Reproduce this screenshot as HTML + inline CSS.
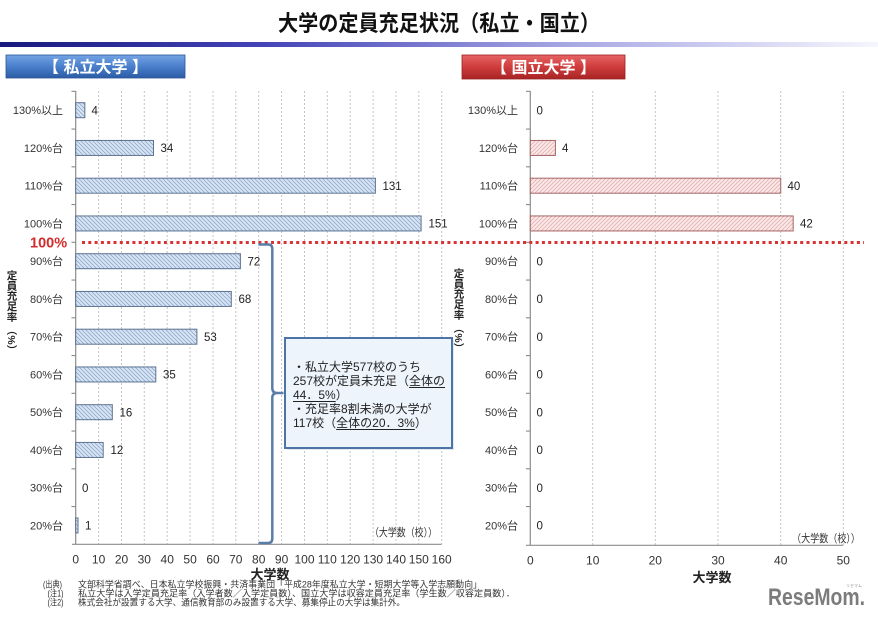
<!DOCTYPE html>
<html><head><meta charset="utf-8">
<style>
html,body{margin:0;padding:0;background:#fff;}
#wrap{position:relative;width:878px;height:620px;overflow:hidden;background:#fff;font-family:"Liberation Sans","Noto Sans CJK JP",sans-serif;}
svg{position:absolute;left:0;top:0;}
#call{position:absolute;left:293px;top:359.5px;font-size:12px;line-height:14px;color:#222;white-space:nowrap;font-family:"Liberation Sans","Noto Sans CJK JP",sans-serif;}
#call u{text-decoration:underline;text-underline-offset:2px;}
</style></head><body>
<div id="wrap">
<svg width="878" height="620" viewBox="0 0 878 620" xmlns="http://www.w3.org/2000/svg" font-family="Liberation Sans, Noto Sans CJK JP, sans-serif">
<defs>
<linearGradient id="topbar" x1="0" y1="0" x2="1" y2="0">
<stop offset="0" stop-color="#18187c"/>
<stop offset="0.3" stop-color="#4444b8"/>
<stop offset="0.65" stop-color="#a8a8e4"/>
<stop offset="1" stop-color="#f6f6fd"/>
</linearGradient>
<linearGradient id="bluebox" x1="0" y1="0" x2="0" y2="1">
<stop offset="0" stop-color="#74a4e4"/>
<stop offset="0.5" stop-color="#4a7fcc"/>
<stop offset="1" stop-color="#2b5ca6"/>
</linearGradient>
<linearGradient id="redbox" x1="0" y1="0" x2="0" y2="1">
<stop offset="0" stop-color="#e66464"/>
<stop offset="0.5" stop-color="#cf3c3c"/>
<stop offset="1" stop-color="#a82424"/>
</linearGradient>
<pattern id="hb" patternUnits="userSpaceOnUse" width="4" height="4">
<rect width="4" height="4" fill="#d9e5f3"/>
<path d="M-1,-1 L5,5 M-1,3 L1,5 M3,-1 L5,1" stroke="#8ea8cf" stroke-width="0.8"/>
</pattern>
<pattern id="hr" patternUnits="userSpaceOnUse" width="4" height="4">
<rect width="4" height="4" fill="#fbe9e9"/>
<path d="M-1,5 L5,-1 M-1,1 L1,-1 M3,5 L5,3" stroke="#e4b0b0" stroke-width="0.8"/>
</pattern>
</defs>

<!-- title -->
<text x="278" y="31" font-size="22" font-weight="bold" fill="#111" textLength="322" lengthAdjust="spacingAndGlyphs">大学の定員充足状況（私立・国立）</text>
<rect x="0" y="42" width="878" height="5" fill="url(#topbar)"/>

<!-- header boxes -->
<rect x="6" y="55" width="179" height="23" fill="url(#bluebox)" stroke="#2a5494" stroke-width="0.8"/>
<text x="95.5" y="72.5" font-size="16" font-weight="bold" fill="#fff" text-anchor="middle">【 私立大学 】</text>
<rect x="462" y="55" width="163" height="24" fill="url(#redbox)" stroke="#9a2020" stroke-width="0.8"/>
<text x="543.5" y="73" font-size="16" font-weight="bold" fill="#fff" text-anchor="middle">【 国立大学 】</text>

<!-- LEFT CHART gridlines -->
<g stroke="#c4c4c4" stroke-width="1" stroke-dasharray="2,2">
<line x1="98.6" y1="91" x2="98.6" y2="544"/>
<line x1="121.5" y1="91" x2="121.5" y2="544"/>
<line x1="144.3" y1="91" x2="144.3" y2="544"/>
<line x1="167.2" y1="91" x2="167.2" y2="544"/>
<line x1="190.1" y1="91" x2="190.1" y2="544"/>
<line x1="213" y1="91" x2="213" y2="544"/>
<line x1="235.8" y1="91" x2="235.8" y2="544"/>
<line x1="258.7" y1="91" x2="258.7" y2="544"/>
<line x1="281.6" y1="91" x2="281.6" y2="544"/>
<line x1="304.5" y1="91" x2="304.5" y2="544"/>
<line x1="327.3" y1="91" x2="327.3" y2="544"/>
<line x1="350.2" y1="91" x2="350.2" y2="544"/>
<line x1="373.1" y1="91" x2="373.1" y2="544"/>
<line x1="396" y1="91" x2="396" y2="544"/>
<line x1="418.8" y1="91" x2="418.8" y2="544"/>
<line x1="441.7" y1="91" x2="441.7" y2="544"/>
</g>
<!-- RIGHT CHART gridlines -->
<g stroke="#c4c4c4" stroke-width="1" stroke-dasharray="2,2">
<line x1="592.7" y1="91" x2="592.7" y2="545"/>
<line x1="655.3" y1="91" x2="655.3" y2="545"/>
<line x1="718" y1="91" x2="718" y2="545"/>
<line x1="780.7" y1="91" x2="780.7" y2="545"/>
<line x1="843.3" y1="91" x2="843.3" y2="545"/>
</g>

<!-- axes -->
<g stroke="#8c8c8c" stroke-width="1.2" fill="none">
<line x1="75.7" y1="91" x2="75.7" y2="544.3"/>
<line x1="72" y1="544.3" x2="441.7" y2="544.3"/>
<path d="M71.5,91.3H75.7M71.5,129.05H75.7M71.5,166.8H75.7M71.5,204.55H75.7M71.5,242.3H75.7M71.5,280.05H75.7M71.5,317.8H75.7M71.5,355.55H75.7M71.5,393.3H75.7M71.5,431.05H75.7M71.5,468.8H75.7M71.5,506.55H75.7"/>
<line x1="530.3" y1="91" x2="530.3" y2="545.3"/>
<line x1="526" y1="545.3" x2="843.3" y2="545.3"/>
<path d="M526,91.3H530.3M526,129.05H530.3M526,166.8H530.3M526,204.55H530.3M526,242.3H530.3M526,280.05H530.3M526,317.8H530.3M526,355.55H530.3M526,393.3H530.3M526,431.05H530.3M526,468.8H530.3M526,506.55H530.3"/>
</g>

<!-- left bars -->
<g stroke="#5c7391" stroke-width="1" fill="url(#hb)">
<rect x="75.7" y="102.7" width="9.15" height="15"/>
<rect x="75.7" y="140.45" width="77.8" height="15"/>
<rect x="75.7" y="178.2" width="299.7" height="15"/>
<rect x="75.7" y="215.95" width="345.4" height="15"/>
<rect x="75.7" y="253.7" width="164.7" height="15"/>
<rect x="75.7" y="291.45" width="155.6" height="15"/>
<rect x="75.7" y="329.2" width="121.2" height="15"/>
<rect x="75.7" y="366.95" width="80.1" height="15"/>
<rect x="75.7" y="404.7" width="36.6" height="15"/>
<rect x="75.7" y="442.45" width="27.5" height="15"/>
<rect x="75.7" y="517.95" width="2.3" height="15"/>
</g>
<!-- right bars -->
<g stroke="#a46565" stroke-width="1" fill="url(#hr)">
<rect x="530.3" y="140.45" width="25.1" height="15"/>
<rect x="530.3" y="178.2" width="250.4" height="15"/>
<rect x="530.3" y="215.95" width="262.9" height="15"/>
</g>

<!-- left category labels -->
<g font-size="11" fill="#333" text-anchor="end">
<text x="63" y="114.2">130%以上</text>
<text x="63" y="152">120%台</text>
<text x="63" y="189.7">110%台</text>
<text x="63" y="227.5">100%台</text>
<text x="63" y="265.2">90%台</text>
<text x="63" y="303">80%台</text>
<text x="63" y="340.7">70%台</text>
<text x="63" y="378.5">60%台</text>
<text x="63" y="416.2">50%台</text>
<text x="63" y="454">40%台</text>
<text x="63" y="491.7">30%台</text>
<text x="63" y="529.5">20%台</text>
</g>
<!-- right category labels -->
<g font-size="11" fill="#333" text-anchor="end">
<text x="518" y="114.2">130%以上</text>
<text x="518" y="152">120%台</text>
<text x="518" y="189.7">110%台</text>
<text x="518" y="227.5">100%台</text>
<text x="518" y="265.2">90%台</text>
<text x="518" y="303">80%台</text>
<text x="518" y="340.7">70%台</text>
<text x="518" y="378.5">60%台</text>
<text x="518" y="416.2">50%台</text>
<text x="518" y="454">40%台</text>
<text x="518" y="491.7">30%台</text>
<text x="518" y="529.5">20%台</text>
</g>

<!-- left value labels -->
<g font-size="11.5" fill="#222">
<text x="91.5" y="114.3">4</text>
<text x="160.5" y="152">34</text>
<text x="382.5" y="189.8">131</text>
<text x="428.5" y="227.5">151</text>
<text x="247.5" y="265.3">72</text>
<text x="238.5" y="303">68</text>
<text x="204" y="340.8">53</text>
<text x="163" y="378.5">35</text>
<text x="119.5" y="416.3">16</text>
<text x="110.5" y="454">12</text>
<text x="82" y="491.8">0</text>
<text x="85" y="529.5">1</text>
</g>
<!-- right value labels -->
<g font-size="11.5" fill="#222">
<text x="536.5" y="114.3">0</text>
<text x="562" y="152">4</text>
<text x="787.5" y="189.8">40</text>
<text x="800" y="227.5">42</text>
<text x="536.5" y="265.3">0</text>
<text x="536.5" y="303">0</text>
<text x="536.5" y="340.8">0</text>
<text x="536.5" y="378.5">0</text>
<text x="536.5" y="416.3">0</text>
<text x="536.5" y="454">0</text>
<text x="536.5" y="491.8">0</text>
<text x="536.5" y="529.5">0</text>
</g>

<!-- left x tick labels -->
<g font-size="12" fill="#333" text-anchor="middle">
<text x="75.7" y="563.5">0</text>
<text x="98.6" y="563.5">10</text>
<text x="121.5" y="563.5">20</text>
<text x="144.3" y="563.5">30</text>
<text x="167.2" y="563.5">40</text>
<text x="190.1" y="563.5">50</text>
<text x="213" y="563.5">60</text>
<text x="235.8" y="563.5">70</text>
<text x="258.7" y="563.5">80</text>
<text x="281.6" y="563.5">90</text>
<text x="304.5" y="563.5">100</text>
<text x="327.3" y="563.5">110</text>
<text x="350.2" y="563.5">120</text>
<text x="373.1" y="563.5">130</text>
<text x="396" y="563.5">140</text>
<text x="418.8" y="563.5">150</text>
<text x="441.7" y="563.5">160</text>
</g>
<!-- right x tick labels -->
<g font-size="12" fill="#333" text-anchor="middle">
<text x="530.3" y="564.5">0</text>
<text x="592.7" y="564.5">10</text>
<text x="655.3" y="564.5">20</text>
<text x="718" y="564.5">30</text>
<text x="780.7" y="564.5">40</text>
<text x="843.3" y="564.5">50</text>
</g>

<!-- axis titles -->
<text x="270" y="579" font-size="13" font-weight="bold" fill="#222" text-anchor="middle">大学数</text>
<text x="712" y="582" font-size="13" font-weight="bold" fill="#222" text-anchor="middle">大学数</text>
<text x="370" y="536" font-size="11" fill="#333" textLength="67" lengthAdjust="spacingAndGlyphs">（大学数（校））</text>
<text x="792" y="542" font-size="11" fill="#333" textLength="68" lengthAdjust="spacingAndGlyphs">（大学数（校））</text>

<!-- vertical y titles -->
<g font-size="10.5" font-weight="bold" fill="#222" text-anchor="middle">
<text x="12" y="279">定</text>
<text x="12" y="289.3">員</text>
<text x="12" y="299.6">充</text>
<text x="12" y="310">足</text>
<text x="12" y="320.5">率</text>
<text transform="translate(8,325) rotate(90)" text-anchor="start" textLength="30" lengthAdjust="spacingAndGlyphs">（%）</text>
<text x="459" y="277">定</text>
<text x="459" y="287.3">員</text>
<text x="459" y="297.6">充</text>
<text x="459" y="308">足</text>
<text x="459" y="318.5">率</text>
<text transform="translate(455,323) rotate(90)" text-anchor="start" textLength="30" lengthAdjust="spacingAndGlyphs">（%）</text>
</g>

<!-- 100% line -->
<line x1="82" y1="242.5" x2="864" y2="242.5" stroke="#d83232" stroke-width="3" stroke-dasharray="3,3.3"/>
<text x="30" y="247.5" font-size="14.5" font-weight="bold" fill="#d42c2c">100%</text>

<!-- brace -->
<path d="M258.5,244.5 H268.5 Q272.3,244.5 272.3,249 V388 Q272.3,393 277,393 H283.5 M277,393 Q272.3,393 272.3,398 V538.5 Q272.3,543 268,543 H258.5" fill="none" stroke="#5a7da8" stroke-width="2.5"/>

<!-- callout box -->
<rect x="287" y="340" width="167" height="110" fill="#c8d3e0" opacity="0.5"/>
<rect x="285" y="338" width="167" height="110" fill="#eef4fb" stroke="#4d74a6" stroke-width="2"/>

<!-- footnotes -->
<g font-size="9" fill="#333">
<text x="43" y="587.5" textLength="19" lengthAdjust="spacingAndGlyphs">(出典)</text>
<text x="78" y="587.5" textLength="404" lengthAdjust="spacingAndGlyphs">文部科学省調べ、日本私立学校振興・共済事業団「平成28年度私立大学・短期大学等入学志願動向」</text>
<text x="47.5" y="596.5" textLength="16" lengthAdjust="spacingAndGlyphs">(注1)</text>
<text x="78" y="596.5" textLength="437" lengthAdjust="spacingAndGlyphs">私立大学は入学定員充足率（入学者数／入学定員数）、国立大学は収容定員充足率（学生数／収容定員数）．</text>
<text x="47.5" y="605.5" textLength="16" lengthAdjust="spacingAndGlyphs">(注2)</text>
<text x="78" y="605.5" textLength="327" lengthAdjust="spacingAndGlyphs">株式会社が設置する大学、通信教育部のみ設置する大学、募集停止の大学は集計外。</text>
</g>

<!-- logo -->
<text x="768" y="605" font-size="24" font-weight="bold" fill="#7c7c7c" textLength="97" lengthAdjust="spacingAndGlyphs">ReseMom.</text>
<text x="846" y="587" font-size="4" fill="#999">リセマム</text>
</svg>

<div id="call">・私立大学577校のうち<br>257校が定員未充足（<u>全体の</u><br><u>44．5%</u>）<br>・充足率8割未満の大学が<br>117校（<u>全体の20．3%</u>）</div>
</div>
</body></html>
